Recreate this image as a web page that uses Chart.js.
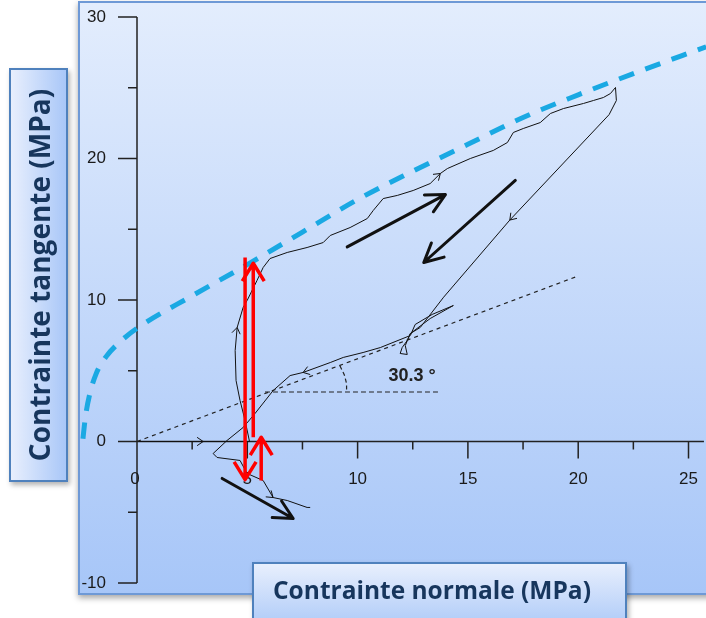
<!DOCTYPE html>
<html>
<head>
<meta charset="utf-8">
<script src="https://cdn.jsdelivr.net/npm/chart.js@4"></script>
<style>
  body { margin: 0; width: 706px; height: 618px; overflow: hidden; background: #fff; position: relative; }
  #cadre { position: absolute; left: 78px; top: 1px; width: 640px; height: 590px; border: 2px solid #6e99d6;
           background: linear-gradient(#e3edfd, #a7c6f8); box-shadow: 0 3px 6px rgba(0,0,0,.35); }
  #graph { position: absolute; left: 0; top: 0; }
  .etiquette { position: absolute; border: 2px solid #4f81bd; color: #17365d; font: bold 24.5px 'Open Sans', sans-serif;
               box-shadow: 2px 3px 5px rgba(0,0,0,.3); box-sizing: border-box; }
  #ylab { left: 9px; top: 68px; width: 59px; height: 414px; background: linear-gradient(to right, #e8effd, #a9c7f8); font-size: 28px; }
  #ylab span { position: absolute; left: 50%; top: 50%; transform: translate(-50%, -50%) rotate(-90deg); white-space: nowrap; }
  #xlab { left: 252px; top: 562px; width: 375px; height: 70px; background: linear-gradient(#e8effd, #aac8f8); }
  #xlab span { position: absolute; left: 19px; top: 9px; white-space: nowrap; }
</style>
</head>
<body>
<div id="cadre"></div>
<canvas id="graph" width="706" height="618"></canvas>
<div class="etiquette" id="ylab"><span>Contrainte tangente (MPa)</span></div>
<div class="etiquette" id="xlab"><span>Contrainte normale (MPa)</span></div>
<script>
// Graduations
const xMajeures = [0, 5, 10, 15, 20, 25];
const xMineures = [2.5, 7.5, 12.5, 17.5, 22.5];
const yMajeures = [-10, 0, 10, 20, 30];
const yMineures = [-5, 5, 15, 25];

// Enveloppe de rupture (tirets bleus)
const envX = [-2.45, -2.35, -2.15, -1.85, -1.4, -0.8, 0, 2.5, 5, 7.5, 10, 12.5, 15, 17.5, 20, 22.5, 25.8];
const envY = [0.2, 1.6, 3.3, 4.8, 6.0, 7.0, 8.0, 10.3, 12.5, 14.8, 17.1, 19.1, 21.0, 22.9, 24.5, 26.0, 27.9];

// Droite de frottement (30.3°) et repère de l'angle
const frotX = [0, 20.0];
const frotY = [0, 11.7];
const horizX = [5.8, 13.75];
const horizY = [3.5, 3.5];
const arcX = [9.2, 9.4, 9.5, 9.5];
const arcY = [5.35, 4.7, 4.1, 3.5];

// Chemin de contraintes mesuré
const cheminX = [0, 3.0, 5.1, 4.9, 4.67, 4.49, 4.45, 4.54, 4.81, 4.99, 5.44, 5.72, 6.03, 6.81, 7.71, 8.44, 8.76, 9.66, 10.44, 10.71,
  11.16, 11.8, 12.52, 13.29, 13.75, 14.07, 15.11, 16.15, 16.79, 17.06, 17.51, 18.28, 18.74, 19.33, 20.24, 20.69, 21.14, 21.46,
  21.69, 21.73, 21.4, 16.9, 13.9, 12.84, 12.39, 12.25, 12.02, 11.93, 12.25, 12.16, 12.39, 13.29, 14.34, 13.38, 12.61, 12.39,
  11.03, 10.25, 9.35, 8.76, 7.53, 6.94, 6.17, 5.35, 4.81, 4.08, 3.45, 3.63, 4.67, 4.99, 5.72, 6.17, 6.81, 7.71, 7.85];
const cheminY = [0, 0, 0, 1.48, 2.9, 4.31, 6.43, 8.06, 9.47, 9.96, 11.38, 12.3, 12.93, 13.36, 13.71, 14.06, 14.56, 15.12, 15.76, 16.33,
  17.17, 17.39, 17.74, 18.23, 18.94, 19.29, 20.0, 20.57, 21.13, 21.84, 22.12, 22.54, 23.18, 23.53, 23.89, 24.1, 24.31, 24.59,
  25.02, 24.1, 23.1, 15.65, 10.2, 8.06, 7.63, 7.14, 6.64, 6.22, 6.15, 6.78, 7.63, 8.69, 9.61, 8.98, 8.27, 7.49,
  6.64, 6.29, 5.94, 5.58, 4.88, 4.66, 3.6, 1.98, 0.99, 0.07, -0.85, -1.13, -1.34, -2.26, -2.76, -3.96, -4.17, -4.66, -4.66];
// points du chemin portant une petite flèche de sens
const flechesChemin = [1, 7, 24, 41, 60, 71];

// Grosses flèches noires [x0, y0, x1, y1]
const flechesNoires = [[9.53, 13.75, 13.98, 17.45], [17.15, 18.45, 13.0, 12.65], [3.86, -2.61, 7.08, -5.44]];
// Flèches rouges [x0, y0, x1, y1]
const flechesRouges = [[4.9, 13.0, 4.9, -2.7], [5.27, 0.3, 5.27, 12.6], [5.63, -2.76, 5.63, 0.3]];

const pts = (xs, ys) => xs.map((v, i) => ({ x: v, y: ys[i] }));

function fleche(ctx, ax, ay, bx, by, long, angle) {
  const a = Math.atan2(by - ay, bx - ax);
  ctx.beginPath();
  ctx.moveTo(ax, ay); ctx.lineTo(bx, by);
  ctx.moveTo(bx - long * Math.cos(a - angle), by - long * Math.sin(a - angle));
  ctx.lineTo(bx, by);
  ctx.lineTo(bx - long * Math.cos(a + angle), by - long * Math.sin(a + angle));
  ctx.stroke();
}

const axes = {
  id: 'axes',
  beforeDatasetsDraw(chart) {
    const { ctx, scales: { x, y } } = chart;
    const x0 = x.getPixelForValue(0), y0 = y.getPixelForValue(0);
    ctx.save();
    ctx.strokeStyle = '#222';
    ctx.lineWidth = 1.5;
    ctx.beginPath();
    ctx.moveTo(x0, y.getPixelForValue(30)); ctx.lineTo(x0, y.getPixelForValue(-10));
    ctx.moveTo(x0, y0); ctx.lineTo(x.getPixelForValue(25.7), y0);
    yMajeures.forEach(v => { const p = y.getPixelForValue(v); ctx.moveTo(x0 - 19, p); ctx.lineTo(x0, p); });
    yMineures.forEach(v => { const p = y.getPixelForValue(v); ctx.moveTo(x0 - 9, p); ctx.lineTo(x0, p); });
    xMajeures.forEach(v => { const p = x.getPixelForValue(v); ctx.moveTo(p, y0); ctx.lineTo(p, y0 + 17); });
    xMineures.forEach(v => { const p = x.getPixelForValue(v); ctx.moveTo(p, y0); ctx.lineTo(p, y0 + 8); });
    ctx.stroke();
    ctx.fillStyle = '#1a1a1a';
    ctx.font = '17px "Liberation Sans"';
    ctx.textBaseline = 'middle';
    ctx.textAlign = 'right';
    yMajeures.forEach(v => ctx.fillText(String(v), x0 - 31, y.getPixelForValue(v)));
    ctx.textAlign = 'center';
    xMajeures.forEach(v => ctx.fillText(String(v), x.getPixelForValue(v) - (v === 0 ? 2 : 0), y0 + 38));
    ctx.restore();
  },
  afterDatasetsDraw(chart) {
    const { ctx, scales: { x, y } } = chart;
    ctx.save();
    ctx.lineCap = 'round';
    ctx.lineJoin = 'round';
    // petites flèches sur le chemin
    ctx.strokeStyle = '#111';
    ctx.lineWidth = 1;
    flechesChemin.forEach(i => {
      const ax = x.getPixelForValue(cheminX[i - 1]), ay = y.getPixelForValue(cheminY[i - 1]);
      const bx = x.getPixelForValue(cheminX[i + 1]), by = y.getPixelForValue(cheminY[i + 1]);
      const mx = x.getPixelForValue(cheminX[i]), my = y.getPixelForValue(cheminY[i]);
      const a = Math.atan2(by - ay, bx - ax);
      ctx.beginPath();
      ctx.moveTo(mx - 7 * Math.cos(a - 0.6), my - 7 * Math.sin(a - 0.6));
      ctx.lineTo(mx, my);
      ctx.lineTo(mx - 7 * Math.cos(a + 0.6), my - 7 * Math.sin(a + 0.6));
      ctx.stroke();
    });
    // texte de l'angle
    ctx.fillStyle = '#222';
    ctx.font = 'bold 18px "Liberation Sans"';
    ctx.textAlign = 'center';
    ctx.textBaseline = 'middle';
    ctx.fillText('30.3 °', x.getPixelForValue(12.47), y.getPixelForValue(4.66));
    // grosses flèches noires
    ctx.strokeStyle = '#111';
    ctx.lineWidth = 3;
    flechesNoires.forEach(f => fleche(ctx, x.getPixelForValue(f[0]), y.getPixelForValue(f[1]),
      x.getPixelForValue(f[2]), y.getPixelForValue(f[3]), 21, 0.47));
    // flèches rouges
    ctx.strokeStyle = '#ff0000';
    ctx.lineWidth = 3.5;
    ctx.lineCap = 'butt';
    flechesRouges.forEach(f => fleche(ctx, x.getPixelForValue(f[0]), y.getPixelForValue(f[1]),
      x.getPixelForValue(f[2]), y.getPixelForValue(f[3]), 21, 0.55));
    ctx.restore();
  }
};

new Chart(document.getElementById('graph'), {
  type: 'scatter',
  data: {
    datasets: [
      { data: pts(envX, envY), showLine: true, borderColor: '#1aa9e3', borderWidth: 5, borderDash: [16, 12],
        cubicInterpolationMode: 'monotone', pointRadius: 0 },
      { data: pts(frotX, frotY), showLine: true, borderColor: '#222', borderWidth: 1.2, borderDash: [4, 4], pointRadius: 0 },
      { data: pts(horizX, horizY), showLine: true, borderColor: '#222', borderWidth: 1.2, borderDash: [5, 3], pointRadius: 0 },
      { data: pts(arcX, arcY), showLine: true, borderColor: '#222', borderWidth: 1.2, borderDash: [4, 3], pointRadius: 0 },
      { data: pts(cheminX, cheminY), showLine: true, borderColor: '#111', borderWidth: 1, pointRadius: 0 }
    ]
  },
  options: {
    responsive: false,
    animation: false,
    devicePixelRatio: 1,
    layout: { padding: { left: 80, top: 3, right: 0, bottom: 26 } },
    plugins: { legend: { display: false }, tooltip: { enabled: false } },
    scales: {
      x: { type: 'linear', display: false, min: -2.584, max: 25.793 },
      y: { type: 'linear', display: false, min: -10.636, max: 30.99 }
    }
  },
  plugins: [axes]
});
</script>
</body>
</html>
